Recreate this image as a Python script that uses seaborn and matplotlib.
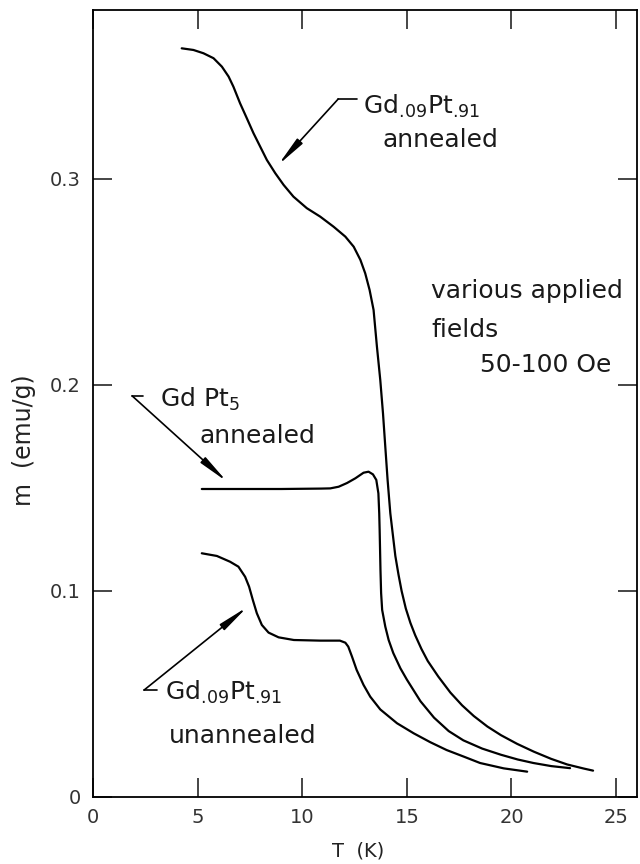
import numpy as np
import pandas as pd
import matplotlib
matplotlib.use("Agg")
import matplotlib.pyplot as plt
import seaborn as sns

# ----------------------------
# dados
# ----------------------------
t_annealed = [4.24, 4.8, 5.28, 5.76, 6.16, 6.48, 6.71, 7.03, 7.35, 7.67, 7.99, 8.31,
              8.71, 9.11, 9.58, 10.22, 10.86, 11.5, 12.06, 12.46, 12.78, 13.01, 13.22,
              13.41, 13.57, 13.73, 13.86, 13.97, 14.08, 14.21, 14.45, 14.6, 14.75,
              14.95, 15.17, 15.4, 15.7, 16.0, 16.5, 17.08, 17.64, 18.2, 18.85, 19.5,
              20.27, 21.07, 21.9, 22.66, 23.46, 23.9]
m_annealed = [0.3634, 0.3626, 0.361, 0.3586, 0.3545, 0.3497, 0.3448, 0.3367, 0.3295,
              0.3222, 0.3157, 0.3092, 0.3028, 0.2971, 0.2914, 0.2858, 0.2817, 0.2768,
              0.272, 0.2671, 0.2607, 0.2542, 0.2461, 0.2364, 0.2186, 0.2024, 0.1862,
              0.170, 0.1539, 0.1377, 0.117, 0.108, 0.100, 0.0915, 0.0845, 0.0785,
              0.0718, 0.066, 0.0585, 0.0507, 0.0445, 0.0393, 0.0342, 0.030, 0.0258,
              0.022, 0.0185, 0.0158, 0.0138, 0.0128]

t_gdpt5 = [5.2, 7.0, 9.0, 10.9, 11.34, 11.74, 12.14, 12.54, 12.93, 13.17, 13.38, 13.54,
           13.64, 13.68, 13.7, 13.72, 13.74, 13.77, 13.82, 13.97, 14.13, 14.35, 14.69,
           15.0, 15.65, 16.3, 17.0, 17.7, 18.6, 19.5, 20.3, 21.05, 21.9, 22.8]
m_gdpt5 = [0.1495, 0.1495, 0.1495, 0.1497, 0.1498, 0.1506, 0.1524, 0.1547, 0.1574,
           0.1579, 0.1566, 0.1539, 0.1474, 0.1377, 0.1296, 0.1199, 0.110, 0.099, 0.0908,
           0.0827, 0.0762, 0.0699, 0.0625, 0.057, 0.0465, 0.0385, 0.032, 0.0275, 0.0235,
           0.0205, 0.0182, 0.0165, 0.015, 0.014]

t_unannealed = [5.2, 5.92, 6.55, 6.95, 7.27, 7.46, 7.64, 7.83, 8.07, 8.39, 8.87, 9.6,
                10.86, 11.8, 12.06, 12.2, 12.38, 12.6, 12.93, 13.25, 13.73, 14.53,
                15.33, 16.12, 16.9, 17.72, 18.5, 19.63, 20.75]
m_unannealed = [0.1183, 0.117, 0.1142, 0.1118, 0.1069, 0.1021, 0.0956, 0.0892, 0.0835,
                0.0798, 0.0775, 0.0762, 0.0759, 0.0759, 0.0749, 0.073, 0.0681, 0.0617,
                0.0544, 0.0487, 0.0425, 0.0358, 0.0309, 0.0266, 0.0228, 0.0196, 0.0165,
                0.0139, 0.0123]

x_ticks = [0, 5, 10, 15, 20, 25]
x_labels = ["0", "5", "10", "15", "20", "25"]
y_ticks = [0, 0.1, 0.2, 0.3]
y_labels = ["0", "0.1", "0.2", "0.3"]

df = pd.concat([
    pd.DataFrame({"T": t_annealed, "m": m_annealed, "amostra": "annealed"}),
    pd.DataFrame({"T": t_gdpt5, "m": m_gdpt5, "amostra": "GdPt5"}),
    pd.DataFrame({"T": t_unannealed, "m": m_unannealed, "amostra": "unannealed"}),
], ignore_index=True)

# ----------------------------
# figura
# ----------------------------
sns.set_theme(style="ticks")
plt.rcParams["font.family"] = ["DejaVu Sans"]
plt.rcParams["mathtext.fontset"] = "dejavusans"

fig = plt.figure(figsize=(6.4, 8.64), dpi=100)
ax = fig.add_axes([93 / 640, 67 / 864, 544 / 640, 787 / 864])

sns.lineplot(data=df, x="T", y="m", units="amostra", estimator=None,
             color="black", linewidth=1.6, sort=False, legend=False, ax=ax)

ax.set_xlim(0, 26)
ax.set_ylim(0, 0.382)
ax.set_xticks(x_ticks)
ax.set_xticklabels(x_labels)
ax.set_yticks(y_ticks)
ax.set_yticklabels(y_labels)
ax.tick_params(direction="in", length=14, width=1.2, top=True, right=True,
               labelsize=14, labelcolor="#333333")
ax.tick_params(axis="x", pad=8)
ax.tick_params(axis="y", pad=9)
for s in ax.spines.values():
    s.set_linewidth(1.3)
    s.set_color("black")

ax.set_xlabel("T  (K)", fontsize=14, color="#222222")
ax.xaxis.label.set_va("center")
ax.xaxis.set_label_coords(0.487, -0.069)
ax.set_ylabel("m  (emu/g)", fontsize=17, color="#222222")
ax.yaxis.set_label_coords(-0.105, 0.454)

# ----------------------------
# anotações
# ----------------------------
seta = dict(arrowstyle="-|>,head_length=1.8,head_width=0.22", color="black",
            lw=1.2, shrinkA=0, shrinkB=0, mutation_scale=10)
fs = 18
cor = "#1a1a1a"
gd_pt = r"Gd$_{\text{.09}}$Pt$_{\text{.91}}$"

# Gd.09Pt.91 annealed
ax.text(12.92, 0.3316, gd_pt, fontsize=fs, va="baseline", color=cor)
ax.text(13.83, 0.3155, "annealed", fontsize=fs, va="baseline", color=cor)
ax.plot([11.72, 12.63], [0.3388, 0.3388], color="black", lw=1.2)
ax.annotate("", xy=(8.85, 0.3068), xytext=(11.72, 0.3388), arrowprops=seta)

# GdPt5 annealed
ax.text(3.21, 0.1893, r"Gd Pt$_5$", fontsize=fs, va="baseline", color=cor)
ax.text(5.07, 0.1718, "annealed", fontsize=fs, va="baseline", color=cor)
ax.plot([1.87, 2.39], [0.1947, 0.1947], color="black", lw=1.2)
ax.annotate("", xy=(6.40, 0.1531), xytext=(1.87, 0.1947), arrowprops=seta)

# Gd.09Pt.91 unannealed
ax.text(3.44, 0.0471, gd_pt, fontsize=fs, va="baseline", color=cor)
ax.text(3.64, 0.0261, "unannealed", fontsize=fs, va="baseline", color=cor)
ax.plot([2.44, 3.06], [0.0519, 0.0519], color="black", lw=1.2)
ax.annotate("", xy=(7.37, 0.0922), xytext=(2.44, 0.0519), arrowprops=seta)

# campos aplicados
ax.text(16.17, 0.2422, "various applied", fontsize=fs, va="baseline", color=cor)
ax.text(16.17, 0.2233, "fields", fontsize=fs, va="baseline", color=cor)
ax.text(18.52, 0.2063, "50-100 Oe", fontsize=fs, va="baseline", color=cor)

fig.savefig("out.png", dpi=100, facecolor="white")
